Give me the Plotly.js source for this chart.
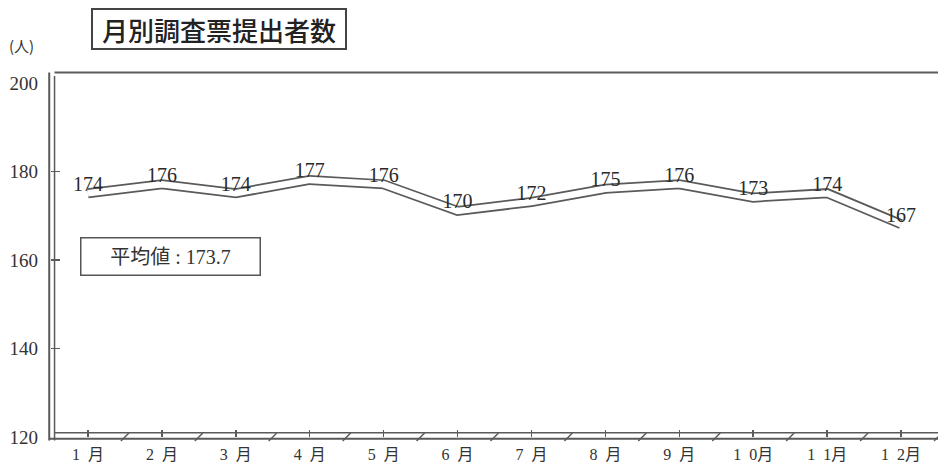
<!DOCTYPE html>
<html><head><meta charset="utf-8">
<script src="https://cdn.plot.ly/plotly-3.0.1.min.js"></script>
<style>html,body{margin:0;padding:0;background:#fff;}</style>
</head><body>
<div id="chart" style="width:938px;height:468px;"></div>
<script>
var months = ["1\u2002月","2\u2002月","3\u2002月","4\u2002月","5\u2002月","6\u2002月","7\u2002月","8\u2002月","9\u2002月","1\u20020月","1\u20021月","1\u20022月"];
var counts = [174,176,174,177,176,170,172,175,176,173,174,167];
var meanLabel = "平均値 : 173.7";
var chartTitle = "月別調査票提出者数";
var unitLabel = "(人)";
var yTicks = [120,140,160,180,200];

var idx = months.map(function(_, i){ return i; });
var mid = months.map(function(_, i){ return i + 0.5; });

var serif = "Liberation Serif, Noto Sans CJK JP, serif";
var edge = "#5a5a5a";

var traces = [
  {x: idx, y: counts, xaxis: "x", yaxis: "y2", mode: "lines", hoverinfo: "skip",
   line: {color: edge, width: 10}},
  {x: idx, y: counts, xaxis: "x", yaxis: "y2", mode: "lines", hoverinfo: "skip",
   line: {color: "#ffffff", width: 6.5}},
  {x: idx, y: counts, xaxis: "x", yaxis: "y3", mode: "text", text: counts.map(String),
   textposition: "middle center", textfont: {family: serif, size: 20, color: "#2a2a2a"},
   hoverinfo: "skip", cliponaxis: false},
  {x: mid, y: mid.map(function(){ return yTicks[0]; }), xaxis: "x", yaxis: "y", mode: "markers",
   marker: {symbol: "line-ne-open", size: 8, color: edge, line: {color: edge, width: 1.5}},
   hoverinfo: "skip", cliponaxis: false}
];

var layout = {
  width: 938, height: 468,
  margin: {l: 51, r: 0, t: 83, b: 31},
  paper_bgcolor: "#ffffff", plot_bgcolor: "#ffffff",
  showlegend: false,
  xaxis: {type: "linear", tickvals: idx, ticktext: months, range: [-0.5, 11.5],
    showgrid: false, zeroline: false, showline: false,
    ticks: "inside", ticklen: 7, tickwidth: 1.5, tickcolor: edge,
    tickfont: {family: serif, size: 16, color: "#333"}, ticklabelstandoff: 6},
  yaxis: {range: [120, 200], tickvals: yTicks, showgrid: false, zeroline: false,
    showline: false, ticks: "inside", ticklen: 9, tickwidth: 1.5, tickcolor: edge,
    tickfont: {family: serif, size: 19, color: "#333"}, ticklabelstandoff: 12},
  yaxis2: {overlaying: "y", range: [118.9, 198.9], visible: false},
  yaxis3: {overlaying: "y", range: [117.2, 197.2], visible: false},
  shapes: [
    {type: "line", xref: "paper", yref: "paper", x0: -0.002, x1: -0.002, y0: -0.01, y1: 1.03, line: {color: edge, width: 2}},
    {type: "line", xref: "paper", yref: "paper", x0: 0.004, x1: 0.004, y0: -0.01, y1: 1.02, line: {color: edge, width: 1.5}},
    {type: "line", xref: "paper", yref: "paper", x0: 0.004, x1: 1.0, y0: 1.03, y1: 1.03, line: {color: edge, width: 2}},
    {type: "line", xref: "paper", yref: "paper", x0: -0.002, x1: 1.0, y0: -0.005, y1: -0.005, line: {color: edge, width: 2}},
    {type: "line", xref: "paper", yref: "paper", x0: 0.004, x1: 1.0, y0: 0.012, y1: 0.012, line: {color: edge, width: 1.5}}
  ],
  annotations: [
    {text: chartTitle, xref: "paper", yref: "paper", x: 0.189, y: 1.152, showarrow: false,
     font: {family: "Noto Sans CJK JP", size: 26, weight: 500, color: "#222"}, bordercolor: "#444",
     borderwidth: 2, borderpad: 0, width: 252, height: 38, xanchor: "center", yanchor: "middle"},
    {text: unitLabel, xref: "paper", yref: "paper", x: -0.033, y: 1.105, showarrow: false,
     font: {family: "Noto Sans CJK JP", size: 15, color: "#333"}, xanchor: "center", yanchor: "middle"},
    {text: meanLabel, xref: "paper", yref: "paper", x: 0.033, y: 0.51, showarrow: false,
     font: {family: serif, size: 20, color: "#333"}, bordercolor: "#555", borderwidth: 1.5,
     borderpad: 0, width: 178, height: 36, xanchor: "left", yanchor: "middle"}
  ]
};

Plotly.newPlot("chart", traces, layout, {displayModeBar: false, staticPlot: true});
</script>
</body></html>
